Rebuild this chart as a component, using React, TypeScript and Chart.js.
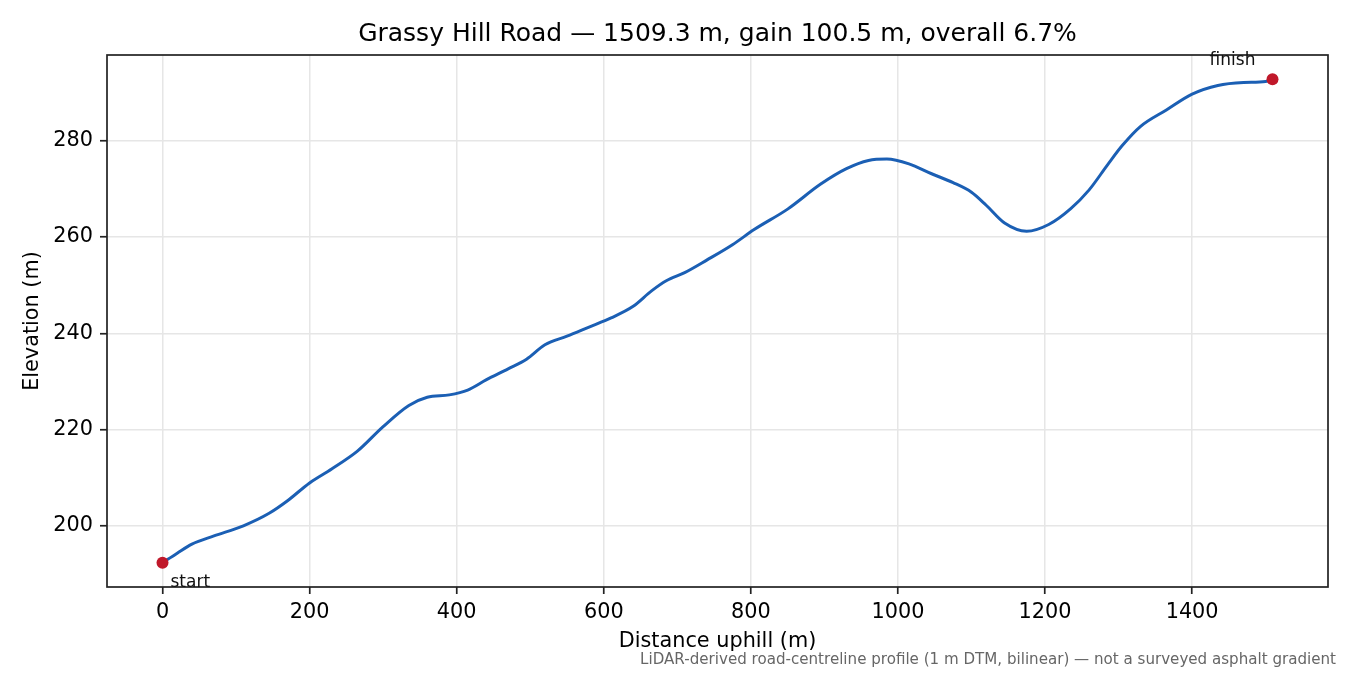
import React, { useEffect, useRef } from 'react';
import { Chart, registerables } from 'chart.js';

Chart.register(...registerables);

// Road profile (distance in m, elevation in m)
const distances = [
  0, 20, 40, 70, 110, 145, 170, 200, 230, 265, 300, 335, 360, 390, 415, 440, 470, 495, 520, 550,
  580, 610, 640, 665, 685, 710, 740, 775, 805, 850, 895, 930, 960, 985, 1015, 1045, 1075, 1100,
  1120, 1145, 1175, 1205, 1235, 1260, 1285, 1305, 1330, 1365, 1400, 1435, 1470, 1500, 1509.3,
];
const elevations = [
  192.3, 194.3, 196.2, 197.9, 200.0, 202.6, 205.2, 208.9, 211.8, 215.5, 220.6, 225.0, 226.7,
  227.2, 228.2, 230.3, 232.6, 234.6, 237.6, 239.4, 241.3, 243.2, 245.6, 248.8, 250.9, 252.6,
  255.2, 258.4, 261.6, 265.8, 271.0, 274.2, 275.9, 276.2, 275.2, 273.2, 271.3, 269.3, 266.6,
  262.9, 261.2, 262.6, 265.9, 269.8, 275.0, 279.0, 283.0, 286.4, 289.7, 291.5, 292.1, 292.3, 292.8,
];
const endLabels = ['start', 'finish'];

const TITLE = 'Grassy Hill Road — 1509.3 m, gain 100.5 m, overall 6.7%';
const X_TITLE = 'Distance uphill (m)';
const Y_TITLE = 'Elevation (m)';
const NOTE = 'LiDAR-derived road-centreline profile (1 m DTM, bilinear) — not a surveyed asphalt gradient';

const FONT = "'DejaVu Sans', sans-serif";

const xMin = distances[0];
const xMax = distances[distances.length - 1];
const yMin = Math.min(...elevations);
const yMax = Math.max(...elevations);
const xPad = (xMax - xMin) * 0.05;
const yPad = (yMax - yMin) * 0.05;

// frame, end-point labels and footnote
const extrasPlugin = {
  id: 'extras',
  afterDraw(chart: Chart) {
    const { ctx, chartArea, scales } = chart;
    ctx.save();
    ctx.strokeStyle = '#222';
    ctx.lineWidth = 1.7;
    ctx.strokeRect(chartArea.left, chartArea.top, chartArea.right - chartArea.left, chartArea.bottom - chartArea.top);

    ctx.fillStyle = '#111';
    ctx.font = `17px ${FONT}`;
    ctx.textBaseline = 'middle';
    const sx = scales.x.getPixelForValue(distances[0]);
    const sy = scales.y.getPixelForValue(elevations[0]);
    ctx.textAlign = 'left';
    ctx.fillText(endLabels[0], sx + 8, sy + 20);
    const fx = scales.x.getPixelForValue(xMax);
    const fy = scales.y.getPixelForValue(elevations[elevations.length - 1]);
    ctx.textAlign = 'center';
    ctx.fillText(endLabels[1], fx - 40, fy - 19);

    ctx.fillStyle = '#666';
    ctx.font = `15.1px ${FONT}`;
    ctx.textAlign = 'right';
    ctx.fillText(NOTE, 1336, 660);
    ctx.restore();
  },
};

export default function App() {
  const canvasRef = useRef<HTMLCanvasElement>(null);

  useEffect(() => {
    if (!canvasRef.current) return;

    const profile = distances.map((d, i) => ({ x: d, y: elevations[i] }));
    const ends = [profile[0], profile[profile.length - 1]];

    const chart = new Chart(canvasRef.current, {
      type: 'line',
      data: {
        datasets: [
          {
            label: 'ends',
            data: ends,
            showLine: false,
            pointRadius: 6,
            pointBackgroundColor: '#c0182a',
            pointBorderWidth: 0,
            order: 0,
          },
          {
            label: 'profile',
            data: profile,
            borderColor: '#1b5fb4',
            borderWidth: 3,
            pointRadius: 0,
            cubicInterpolationMode: 'monotone',
            fill: false,
            order: 1,
          },
        ],
      },
      options: {
        animation: false,
        responsive: true,
        maintainAspectRatio: false,
        layout: { padding: { left: 0, right: 22, top: 0, bottom: 0 } },
        plugins: {
          legend: { display: false },
          tooltip: { enabled: false },
          title: {
            display: true,
            text: TITLE,
            color: '#000',
            fullSize: false,
            font: { family: FONT, size: 25, weight: 'normal', lineHeight: 1.2 },
            padding: { top: 19, bottom: 6 },
          },
        },
        scales: {
          x: {
            type: 'linear',
            min: xMin - xPad,
            max: xMax + xPad,
            afterFit: (scale: any) => {
              scale.height = 88;
            },
            ticks: {
              stepSize: 200,
              includeBounds: false,
              color: '#000',
              padding: 6,
              maxRotation: 0,
              font: { family: FONT, size: 20.8 },
              callback: (v: any) => String(v),
            },
            grid: { color: '#e6e6e6', lineWidth: 1.5, tickColor: '#222', tickLength: 7, tickWidth: 1.7 },
            border: { display: false },
            title: {
              display: true,
              text: X_TITLE,
              color: '#000',
              font: { family: FONT, size: 20.8, lineHeight: 1.2 },
              padding: { top: 0, bottom: 21 },
            },
          },
          y: {
            type: 'linear',
            min: yMin - yPad,
            max: yMax + yPad,
            afterFit: (scale: any) => {
              scale.width = 107;
            },
            ticks: {
              stepSize: 20,
              includeBounds: false,
              color: '#000',
              padding: 7,
              font: { family: FONT, size: 20.8 },
              callback: (v: any) => String(v),
            },
            grid: { color: '#e6e6e6', lineWidth: 1.5, tickColor: '#222', tickLength: 7, tickWidth: 1.7 },
            border: { display: false },
            title: {
              display: true,
              text: Y_TITLE,
              color: '#000',
              font: { family: FONT, size: 20.8, lineHeight: 1.2 },
              padding: { top: 20, bottom: 0 },
            },
          },
        },
      },
      plugins: [extrasPlugin],
    });

    return () => chart.destroy();
  }, []);

  return (
    <div style={{ position: 'absolute', left: 0, top: 0, width: 1350, height: 675, background: '#fff' }}>
      <canvas ref={canvasRef} />
    </div>
  );
}
